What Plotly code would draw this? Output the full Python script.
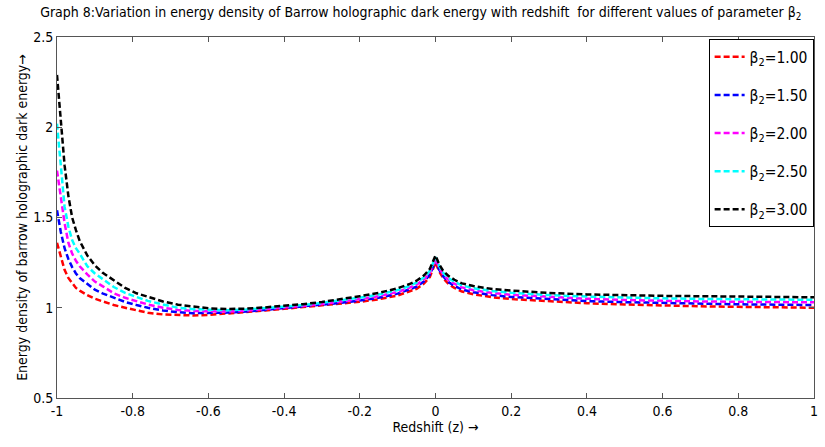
import plotly.graph_objects as go

z = [-1.0, -0.99, -0.98, -0.97, -0.96, -0.95, -0.94, -0.92, -0.90, -0.88, -0.85, -0.82,
     -0.79, -0.76, -0.72, -0.68, -0.64, -0.60, -0.55, -0.50, -0.45, -0.40, -0.35, -0.30,
     -0.25, -0.20, -0.15, -0.10, -0.07, -0.05, -0.03, -0.015, 0.0, 0.01, 0.02, 0.035, 0.05,
     0.07, 0.10, 0.15, 0.20, 0.30, 0.40, 0.50, 0.60, 0.70, 0.80, 0.90, 1.0]

rho_b100 = [1.36, 1.28, 1.21, 1.165, 1.135, 1.11, 1.095, 1.07, 1.05, 1.035, 1.015, 1.0,
            0.985, 0.972, 0.963, 0.958, 0.957, 0.96, 0.967, 0.975, 0.985, 0.994, 1.003, 1.012,
            1.022, 1.033, 1.047, 1.068, 1.09, 1.105, 1.135, 1.17, 1.25, 1.2, 1.165, 1.13, 1.11,
            1.09, 1.075, 1.058, 1.048, 1.035, 1.025, 1.018, 1.012, 1.008, 1.005, 1.002, 1.0]

rho_b150 = [1.54, 1.42, 1.33, 1.27, 1.225, 1.19, 1.165, 1.13, 1.10, 1.08, 1.055, 1.032,
            1.015, 1.0, 0.985, 0.975, 0.97, 0.97, 0.973, 0.979, 0.988, 0.997, 1.006, 1.016,
            1.027, 1.040, 1.055, 1.078, 1.1, 1.117, 1.147, 1.182, 1.26, 1.21, 1.175, 1.141, 1.121,
            1.101, 1.086, 1.070, 1.060, 1.047, 1.037, 1.031, 1.026, 1.022, 1.019, 1.017, 1.015]

rho_b200 = [1.76, 1.60, 1.47, 1.36, 1.30, 1.26, 1.23, 1.185, 1.145, 1.12, 1.08, 1.055,
            1.035, 1.018, 1.0, 0.988, 0.982, 0.979, 0.979, 0.984, 0.992, 1.001, 1.01, 1.021,
            1.033, 1.048, 1.064, 1.088, 1.11, 1.128, 1.158, 1.194, 1.27, 1.22, 1.185, 1.152, 1.133,
            1.113, 1.097, 1.082, 1.072, 1.059, 1.05, 1.043, 1.038, 1.035, 1.033, 1.031, 1.03]

rho_b250 = [2.02, 1.80, 1.56, 1.45, 1.375, 1.33, 1.30, 1.23, 1.19, 1.16, 1.115, 1.082,
            1.06, 1.038, 1.018, 1.0, 0.992, 0.988, 0.986, 0.99, 0.997, 1.006, 1.015, 1.027,
            1.04, 1.056, 1.073, 1.098, 1.12, 1.139, 1.169, 1.205, 1.28, 1.23, 1.195, 1.163, 1.144,
            1.124, 1.108, 1.093, 1.083, 1.07, 1.062, 1.056, 1.052, 1.049, 1.047, 1.045, 1.044]

rho_b300 = [2.29, 2.06, 1.79, 1.62, 1.50, 1.43, 1.37, 1.29, 1.235, 1.195, 1.15, 1.11,
            1.08, 1.06, 1.035, 1.017, 1.005, 0.997, 0.993, 0.995, 1.002, 1.01, 1.02, 1.032,
            1.046, 1.064, 1.082, 1.108, 1.13, 1.15, 1.18, 1.215, 1.29, 1.24, 1.205, 1.175, 1.155,
            1.135, 1.12, 1.104, 1.095, 1.082, 1.074, 1.069, 1.066, 1.064, 1.062, 1.06, 1.058]

series_names = ["β<sub>2</sub>=1.00", "β<sub>2</sub>=1.50", "β<sub>2</sub>=2.00",
                "β<sub>2</sub>=2.50", "β<sub>2</sub>=3.00"]
series_values = [rho_b100, rho_b150, rho_b200, rho_b250, rho_b300]
colors = ["#FF0000", "#0000FF", "#FF00FF", "#00FFFF", "#000000"]

x_tickvals = [-1, -0.8, -0.6, -0.4, -0.2, 0, 0.2, 0.4, 0.6, 0.8, 1]
x_ticktext = ["-1", "-0.8", "-0.6", "-0.4", "-0.2", "0", "0.2", "0.4", "0.6", "0.8", "1"]
y_tickvals = [0.5, 1, 1.5, 2, 2.5]
y_ticktext = ["0.5", "1", "1.5", "2", "2.5"]

FONT = "DejaVu Sans Condensed, Liberation Sans Narrow, sans-serif"

fig = go.Figure()
for i, (name, vals, col) in enumerate(zip(series_names, series_values, colors)):
    fig.add_trace(go.Scatter(
        x=z, y=vals, mode="lines", name=name, legendgroup=f"g{i}",
        line=dict(color=col, width=2.5, dash="6px,3px"),
    ))

fig.update_layout(
    width=825, height=447,
    margin=dict(l=57, r=7, t=37, b=49),
    paper_bgcolor="white", plot_bgcolor="white",
    font=dict(family=FONT, color="black", size=14),
    title=dict(
        text="Graph 8:Variation in energy density of Barrow holographic dark energy with redshift  for different values of parameter β<sub>2</sub>",
        x=0.51, xanchor="center", y=0.972, yanchor="middle",
        font=dict(family=FONT, size=14, color="black"),
    ),
    showlegend=True,
    legend=dict(
        x=0.9995, xanchor="right", y=0.994, yanchor="top",
        bgcolor="white", bordercolor="black", borderwidth=1,
        font=dict(family=FONT, size=15.5, color="black"),
        traceorder="grouped", tracegroupgap=15,
        itemwidth=30,
    ),
    xaxis=dict(
        range=[-1, 1], tickvals=x_tickvals, ticktext=x_ticktext,
        showgrid=False, zeroline=False, showline=True, mirror="ticks",
        linecolor="#555555", linewidth=1, ticks="inside", ticklen=5, tickcolor="#555555",
        tickfont=dict(family=FONT, size=14, color="black"),
        title=dict(text="Redshift (z) →", standoff=4,
                   font=dict(family=FONT, size=14, color="black")),
    ),
    yaxis=dict(
        range=[0.5, 2.5], tickvals=y_tickvals, ticktext=y_ticktext,
        showgrid=False, zeroline=False, showline=True, mirror="ticks",
        linecolor="#555555", linewidth=1, ticks="inside", ticklen=5, tickcolor="#555555",
        tickfont=dict(family=FONT, size=14, color="black"),
        title=dict(text="Energy density of barrow holographic dark energy→", standoff=2,
                   font=dict(family=FONT, size=14, color="black")),
    ),
)

fig.write_html("out.html")
